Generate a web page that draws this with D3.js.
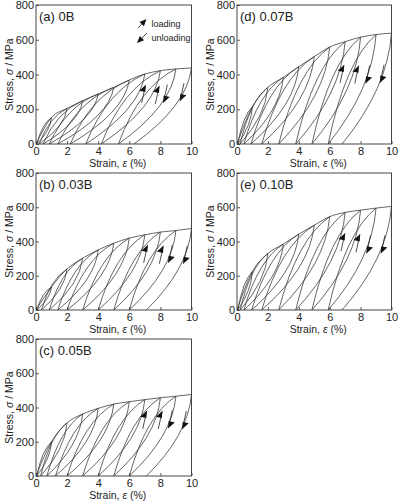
<!DOCTYPE html>
<html><head><meta charset="utf-8">
<script src="https://cdn.jsdelivr.net/npm/d3@7/dist/d3.min.js"></script>
<style>
body{margin:0;background:#fff}
svg{display:block}
text{font-family:"Liberation Sans",Arial,Helvetica,sans-serif;fill:#222}
</style>
</head><body><svg id="chart" width="399" height="503"></svg>
<script>
// ---------- data ----------
const strainTicks = [0, 2, 4, 6, 8, 10];
const stressTicks = [0, 200, 400, 600, 800];
const panelIds = ["a", "d", "b", "e", "c"];
const panelLabels = ["(a) 0B", "(d) 0.07B", "(b) 0.03B", "(e) 0.10B", "(c) 0.05B"];
const peakStrain = [1, 2, 3, 4, 5, 6, 7, 8, 9, 10];

const peakStressA = [153, 205, 249, 288, 326, 368, 403, 422, 432, 438];
const peakStressD = [215, 326, 384, 445, 503, 558, 589, 615, 630, 638];
const peakStressB = [135, 240, 302, 351, 390, 420, 439, 455, 464, 476];
const peakStressE = [225, 330, 385, 443, 495, 545, 570, 583, 595, 605];
const peakStressC = [200, 310, 362, 395, 420, 434, 446, 457, 466, 476];

const residualA = [0.05, 0.2, 0.45, 0.85, 1.4, 2.2, 3.2, 4.2, 5.3, 6.3];
const residualD = [0.05, 0.2, 0.45, 0.9, 1.6, 2.7, 3.8, 4.85, 5.9, 6.8];
const residualB = [0.05, 0.35, 0.85, 1.4, 2.0, 3.0, 4.0, 5.0, 6.0, 7.1];
const residualE = [0.05, 0.2, 0.45, 0.95, 1.6, 2.7, 3.8, 4.85, 5.9, 6.8];
const residualC = [0.05, 0.3, 0.7, 1.25, 2.0, 3.0, 4.0, 5.0, 6.0, 7.1];

// arrow heads (strain %, stress MPa)
const loadArrowStrain = {a:[7.05,7.93], d:[6.93,7.88], b:[7.18,8.19], e:[6.99,7.96], c:[7.12,8.12]};
const loadArrowStress = {a:[340,334], d:[455,451], b:[380,375], e:[448,442], c:[380,380]};
const unloadArrowStrain = {a:[8.19,9.26], d:[8.33,9.26], b:[8.51,9.47], e:[8.39,9.32], c:[8.51,9.41]};
const unloadArrowStress = {a:[238,247], d:[349,353], b:[276,270], e:[331,331], c:[279,274]};

const legendTexts = ["loading", "unloading"];

// ---------- layout ----------
const peakStressBy = {a:peakStressA, d:peakStressD, b:peakStressB, e:peakStressE, c:peakStressC};
const residualBy = {a:residualA, d:residualD, b:residualB, e:residualE, c:residualC};
const boxes = {
  a:{x0:36, x1:191.5, y0:5, y1:144},
  d:{x0:237, x1:391.5, y0:5, y1:144},
  b:{x0:36, x1:191.5, y0:173, y1:310},
  e:{x0:237, x1:391.5, y0:173, y1:310},
  c:{x0:36, x1:191.5, y0:339, y1:476}
};
const curveColor = "#333";
const svg = d3.select("#chart");
const defs = svg.append("defs");

// full arrow
function arrowFull(g, x1, y1, x2, y2, len, wid) {
  const ang = Math.atan2(y2 - y1, x2 - x1);
  const bx = x2 - len * Math.cos(ang), by = y2 - len * Math.sin(ang);
  const px = -Math.sin(ang) * wid / 2, py = Math.cos(ang) * wid / 2;
  g.append("line").attr("x1", x1).attr("y1", y1).attr("x2", bx).attr("y2", by)
    .attr("stroke", "#222").attr("stroke-width", 0.8);
  g.append("path").attr("d", `M${x2},${y2}L${bx+px},${by+py}L${bx-px},${by-py}Z`).attr("fill", "#111");
}
// half (harpoon) arrow with barb on one side
function arrowHalf(g, x1, y1, x2, y2, len, wid, side) {
  const L = Math.hypot(x2 - x1, y2 - y1);
  const dx = (x2 - x1) / L, dy = (y2 - y1) / L;
  const bx = x2 - len * dx, by = y2 - len * dy;
  const nx = side * -dy * wid, ny = side * dx * wid;
  g.append("line").attr("x1", x1).attr("y1", y1).attr("x2", x2).attr("y2", y2)
    .attr("stroke", "#222").attr("stroke-width", 0.8);
  g.append("path").attr("d", `M${x2},${y2}L${bx+nx},${by+ny}L${bx - 0.25*nx},${by - 0.25*ny}Z`).attr("fill", "#111");
}

panelIds.forEach((id, pi) => {
  const b = boxes[id];
  const x = d3.scaleLinear().domain([0, 10]).range([b.x0, b.x1]);
  const y = d3.scaleLinear().domain([0, 800]).range([b.y1, b.y0]);
  const g = svg.append("g");
  const peaks = peakStressBy[id];
  const res = residualBy[id];

  defs.append("clipPath").attr("id", "clip" + id).append("rect")
    .attr("x", b.x0).attr("y", b.y0).attr("width", b.x1 - b.x0).attr("height", b.y1 - b.y0);
  const cg = g.append("g").attr("clip-path", `url(#clip${id})`);

  // envelope (monotonic loading)
  const env = [[0, 0]].concat(peakStrain.map((s, i) => [s, peaks[i]]));
  const line = d3.line().x(d => x(d[0])).y(d => y(d[1])).curve(d3.curveMonotoneX);
  cg.append("path").attr("d", line(env)).attr("fill", "none")
    .attr("stroke", curveColor).attr("stroke-width", 0.75);

  // unloading and reloading branches
  peakStrain.forEach((e, i) => {
    const s = peaks[i], r = res[i];
    const p = d3.path();
    p.moveTo(x(e), y(s));
    p.quadraticCurveTo(x(e - 0.08 * (e - r)), y(0.5 * s), x(r), y(0));
    cg.append("path").attr("d", p.toString()).attr("fill", "none")
      .attr("stroke", curveColor).attr("stroke-width", 0.75);
    if (i < peakStrain.length - 1) {
      const q = d3.path();
      q.moveTo(x(r), y(0));
      q.quadraticCurveTo(x(r + 0.36 * (e - r)), y(0.76 * s), x(e), y(s));
      cg.append("path").attr("d", q.toString()).attr("fill", "none")
        .attr("stroke", curveColor).attr("stroke-width", 0.75);
    }
  });

  // arrows
  loadArrowStrain[id].forEach((sx, k) => {
    const hx = x(sx), hy = y(loadArrowStress[id][k]);
    arrowHalf(g, hx - 4, hy + 18, hx, hy, 7, 5, -1);
  });
  unloadArrowStrain[id].forEach((sx, k) => {
    const hx = x(sx), hy = y(unloadArrowStress[id][k]);
    arrowHalf(g, hx + 4, hy - 18, hx, hy, 7, 5, -1);
  });

  // frame
  g.append("rect").attr("x", b.x0).attr("y", b.y0).attr("width", b.x1 - b.x0).attr("height", b.y1 - b.y0)
    .attr("fill", "none").attr("stroke", "#333").attr("stroke-width", 0.9);

  // axes
  const xa = g.append("g").attr("transform", `translate(0,${b.y1})`)
    .call(d3.axisBottom(x).tickValues(strainTicks).tickSizeInner(-3).tickSizeOuter(0).tickPadding(3));
  const ya = g.append("g").attr("transform", `translate(${b.x0},0)`)
    .call(d3.axisLeft(y).tickValues(stressTicks).tickSizeInner(-3).tickSizeOuter(0).tickPadding(2));
  [xa, ya].forEach(a => {
    a.select(".domain").remove();
    a.selectAll("line").attr("stroke", "#333").attr("stroke-width", 0.8);
    a.selectAll("text").attr("font-size", 11).attr("fill", "#222")
      .style("font-family", '"Liberation Sans",Arial,sans-serif');
  });

  // axis titles
  const xt = g.append("text").attr("x", (b.x0 + b.x1) / 2 + 4).attr("y", b.y1 + 23)
    .attr("text-anchor", "middle").attr("font-size", 10.5);
  xt.append("tspan").text("Strain, ");
  xt.append("tspan").attr("font-style", "italic").text("ε");
  xt.append("tspan").text(" (%)");

  const yt = g.append("text").attr("transform", `translate(${b.x0 - 23},${(b.y0 + b.y1) / 2}) rotate(-90)`)
    .attr("text-anchor", "middle").attr("font-size", 10.5);
  yt.append("tspan").text("Stress, ");
  yt.append("tspan").attr("font-style", "italic").text("σ");
  yt.append("tspan").text(" / MPa");

  // panel label
  g.append("text").attr("x", b.x0 + 3).attr("y", b.y0 + 16).attr("font-size", 13).text(panelLabels[pi]);

  // legend in first panel
  if (id === "a") {
    arrowFull(g, 138, 28, 146.5, 19, 7, 6);
    arrowFull(g, 147, 33, 137, 43, 7, 6);
    g.append("text").attr("x", 151.5).attr("y", 26.5).attr("font-size", 9).text(legendTexts[0]);
    g.append("text").attr("x", 151.5).attr("y", 40.5).attr("font-size", 9).text(legendTexts[1]);
  }
});
</script>
</body></html>
